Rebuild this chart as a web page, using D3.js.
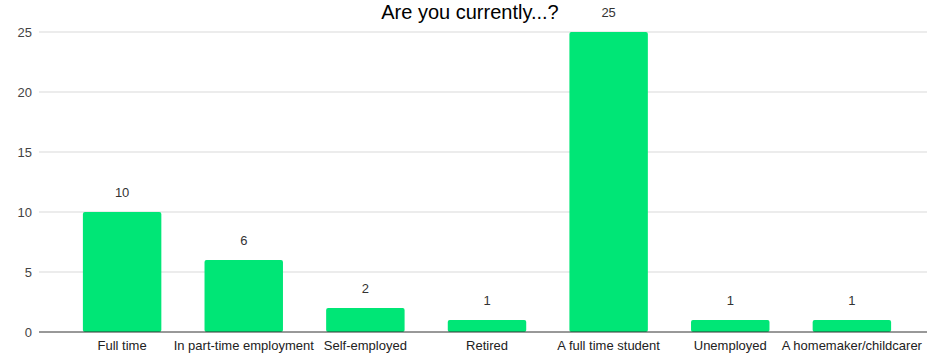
<!DOCTYPE html>
<html><head><meta charset="utf-8">
<script src="https://cdn.jsdelivr.net/npm/d3@7"></script>
<style>body{margin:0;background:#fff}svg{display:block;font-family:"Liberation Sans",Arial,sans-serif}</style>
</head><body><svg id="c" width="927" height="355"></svg>
<script>
const categories = ["Full time","In part-time employment","Self-employed","Retired","A full time student","Unemployed","A homemaker/childcarer"];
const values = [10,6,2,1,25,1,1];
const yTicks = [0,5,10,15,20,25];
const title = "Are you currently...?";

const svg = d3.select("#c");
const x = d3.scaleBand().domain(categories).range([61,913]).paddingInner(0.355).paddingOuter(0.18);
const y = d3.scaleLinear().domain([0,25]).range([332,32]);

svg.append("g").selectAll("line").data(yTicks.filter(d=>d>0)).join("line")
  .attr("x1",39).attr("x2",927).attr("y1",d=>y(d)).attr("y2",d=>y(d))
  .attr("stroke","#d9d9d9").attr("stroke-width",1);

svg.append("g").selectAll("text").data(yTicks).join("text")
  .attr("x",32).attr("y",d=>y(d)+4.5).attr("text-anchor","end")
  .attr("font-size",13).attr("fill","#444").text(d=>d);

svg.append("g").selectAll("rect").data(values).join("rect")
  .attr("x",(d,i)=>x(categories[i])).attr("width",x.bandwidth())
  .attr("y",d=>y(d)).attr("height",d=>y(0)-y(d))
  .attr("rx",2).attr("fill","#00e676");

svg.append("g").selectAll("text").data(values).join("text")
  .attr("x",(d,i)=>x(categories[i])+x.bandwidth()/2).attr("y",d=>y(d)-15)
  .attr("text-anchor","middle").attr("font-size",13).attr("fill","#333").text(d=>d);

svg.append("line").attr("x1",39).attr("x2",927).attr("y1",y(0)).attr("y2",y(0))
  .attr("stroke","#333").attr("stroke-width",1);

svg.append("g").selectAll("text").data(categories).join("text")
  .attr("x",d=>x(d)+x.bandwidth()/2).attr("y",350).attr("text-anchor","middle")
  .attr("font-size",13).attr("fill","#222").text(d=>d);

svg.append("text").attr("x",470).attr("y",19).attr("text-anchor","middle")
  .attr("font-size",20).attr("fill","#000").text(title);
</script></body></html>
